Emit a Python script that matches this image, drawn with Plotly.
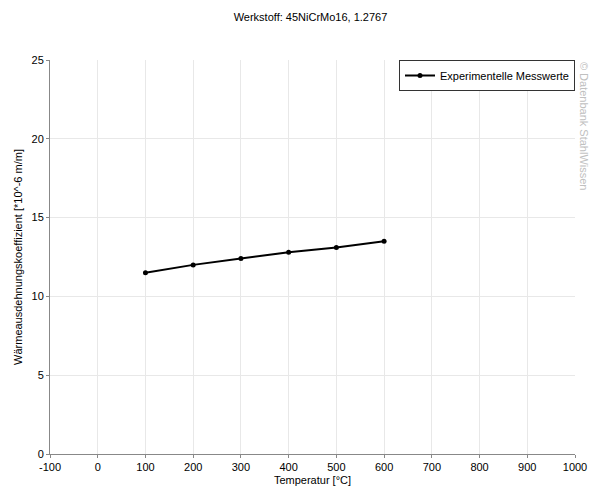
import plotly.graph_objects as go

# Werkstoff 45NiCrMo16, 1.2767
temperatur = [100, 200, 300, 400, 500, 600]
ausdehnung = [11.5, 12.0, 12.4, 12.8, 13.1, 13.5]

x_ticks = [-100, 0, 100, 200, 300, 400, 500, 600, 700, 800, 900, 1000]
x_labels = ['-100', '0', '100', '200', '300', '400', '500', '600', '700', '800', '900', '1000']
y_ticks = [0, 5, 10, 15, 20, 25]

fig = go.Figure()
fig.add_trace(go.Scatter(x=temperatur, y=ausdehnung, mode='lines+markers',
                         name='Experimentelle Messwerte',
                         line=dict(color='black', width=2),
                         marker=dict(color='black', size=5)))

fig.update_layout(
    width=605, height=496,
    margin=dict(l=42, r=38, t=52, b=50),
    paper_bgcolor='white', plot_bgcolor='white',
    font=dict(family='Liberation Sans, Arial, sans-serif', size=11, color='black'),
    title=dict(text='Werkstoff: 45NiCrMo16, 1.2767', x=0.5, xanchor='center',
               y=0.982, yanchor='middle', font=dict(size=11)),
    showlegend=True,
    legend=dict(x=1, y=1, xanchor='right', yanchor='top',
                bordercolor='#333333', borderwidth=1, bgcolor='white',
                font=dict(size=11), itemwidth=30, tracegroupgap=0),
)
fig.update_xaxes(range=[-100, 1000], tickvals=x_ticks, ticktext=x_labels,
                 showgrid=True, gridcolor='#e8e8e8', zeroline=False,
                 showline=True, linecolor='#888888', linewidth=1,
                 ticks='outside', ticklen=3, tickcolor='#888888', automargin=False,
                 title=dict(text='Temperatur [°C]', standoff=4, font=dict(size=11)))
fig.update_yaxes(range=[0, 25], tickvals=y_ticks,
                 showgrid=True, gridcolor='#e8e8e8', zeroline=False,
                 showline=True, linecolor='#888888', linewidth=1,
                 ticks='outside', ticklen=3, tickcolor='#888888', automargin=False,
                 title=dict(text='Wärmeausdehnungskoeffizient [*10^-6 m/m]', standoff=6,
                            font=dict(size=11)))

fig.add_annotation(text='© Datenbank StahlWissen', xref='paper', yref='paper',
                   x=1.003, y=1, xanchor='left', yanchor='top', textangle=90,
                   showarrow=False, font=dict(size=11, color='#c0c0c0'))

fig.write_html("out.html")
